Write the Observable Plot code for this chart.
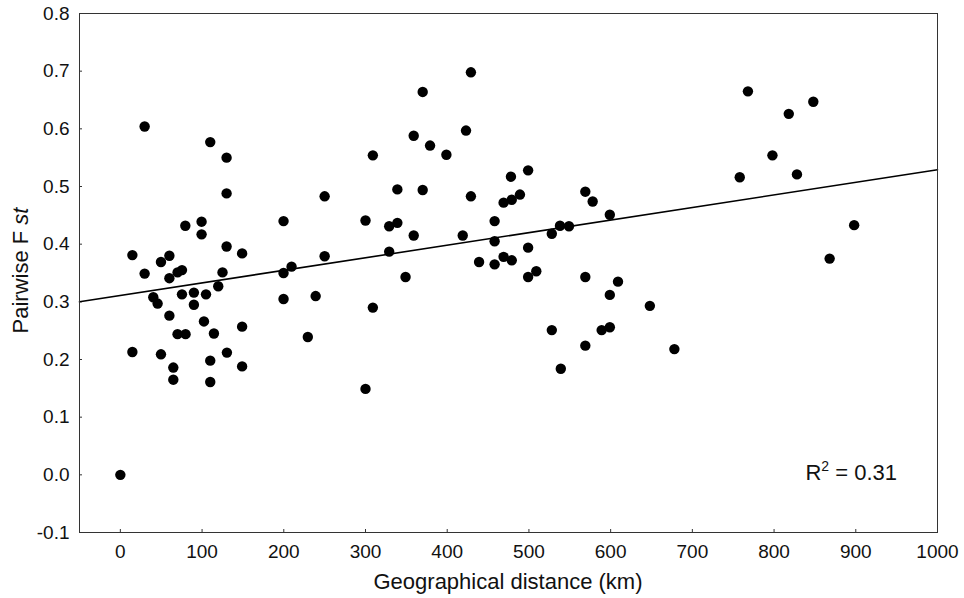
<!DOCTYPE html>
<html>
<head>
<meta charset="utf-8">
<script src="https://cdn.jsdelivr.net/npm/d3@7"></script>
<script src="https://cdn.jsdelivr.net/npm/@observablehq/plot@0.6"></script>
<style>
  html, body { margin: 0; padding: 0; background: #fff; }
  #chart svg { display: block; }
</style>
</head>
<body>
<div id="chart"></div>
<script>
// Geographical distance (km)
const distance = [
  29.7, 110, 130, 130, 250, 99.4, 199.7, 79.5, 99.4, 130,
  149, 14.7, 60, 250, 49.7, 209.5, 29.7, 70, 75.4, 60,
  125, 199.7, 119.8, 75.4, 90, 104.8, 239, 40.3, 199.7, 45.6,
  90, 60, 102.3, 149, 70, 79.8, 114.5, 229.4, 14.7, 49.7,
  130.4, 110, 149, 64.8, 64.8, 110, 0,
  429, 370, 423, 359, 379, 399, 309, 499, 478, 339,
  370, 569, 429, 489, 479, 469, 578, 599, 300, 458,
  339, 329, 538, 549, 528, 359, 419, 458, 329, 499,
  439, 469, 479, 458, 509, 349, 499, 569, 609, 599,
  309, 528, 589, 599, 569, 539, 300,
  768, 848, 818, 798, 828, 758, 898, 868, 648, 678
];
// Pairwise Fst
const fst = [
  0.604, 0.577, 0.550, 0.488, 0.483, 0.439, 0.440, 0.432, 0.417, 0.396,
  0.384, 0.381, 0.380, 0.379, 0.369, 0.361, 0.349, 0.351, 0.355, 0.341,
  0.351, 0.350, 0.327, 0.313, 0.316, 0.313, 0.310, 0.308, 0.305, 0.297,
  0.295, 0.276, 0.266, 0.257, 0.244, 0.244, 0.245, 0.239, 0.213, 0.209,
  0.212, 0.198, 0.188, 0.186, 0.165, 0.161, 0.000,
  0.698, 0.664, 0.597, 0.588, 0.571, 0.555, 0.554, 0.528, 0.517, 0.495,
  0.494, 0.491, 0.483, 0.486, 0.477, 0.472, 0.474, 0.451, 0.441, 0.440,
  0.437, 0.431, 0.432, 0.431, 0.418, 0.415, 0.415, 0.405, 0.387, 0.394,
  0.369, 0.378, 0.372, 0.365, 0.353, 0.343, 0.343, 0.343, 0.335, 0.312,
  0.290, 0.251, 0.251, 0.256, 0.224, 0.184, 0.149,
  0.665, 0.647, 0.626, 0.554, 0.521, 0.516, 0.433, 0.375, 0.293, 0.218
];
// Regression line
const regIntercept = 0.311;
const regSlope = 0.000218;
const rSquaredText = "0.31";

const xTicks = [0, 100, 200, 300, 400, 500, 600, 700, 800, 900, 1000];
const yTicks = [-0.1, 0.0, 0.1, 0.2, 0.3, 0.4, 0.5, 0.6, 0.7, 0.8];
const xDomain = [-50, 1000];
const yDomain = [-0.1, 0.8];

const points = distance.map((d, i) => ({distance: d, fst: fst[i]}));
const regLine = xDomain.map(x => ({distance: x, fst: regIntercept + regSlope * x}));

const W = 964, H = 598;
const mL = 79, mR = 27, mT = 13, mB = 66;
const plotW = W - mL - mR, plotH = H - mT - mB;
const font = "'Liberation Sans', Arial, sans-serif";

const plot = Plot.plot({
  width: W,
  height: H,
  marginLeft: mL,
  marginRight: mR,
  marginTop: mT,
  marginBottom: mB,
  style: {fontFamily: font, background: "#fff", color: "#111"},
  x: {domain: xDomain},
  y: {domain: yDomain},
  marks: [
    Plot.axisX({ticks: xTicks, tickSize: 0, tickPadding: 12, fontSize: 19, label: null, tickFormat: d => String(d)}),
    Plot.axisY({ticks: yTicks, tickSize: 0, tickPadding: 10, fontSize: 19, label: null, tickFormat: d => d.toFixed(1)}),
    Plot.tickX(xTicks.slice(0, -1), {x: d => d, stroke: "#333", strokeWidth: 1, insetTop: plotH - 3}),
    Plot.tickY(yTicks.slice(1, -1), {y: d => d, stroke: "#333", strokeWidth: 1, insetRight: plotW - 3}),
    Plot.line(regLine, {x: "distance", y: "fst", stroke: "#000", strokeWidth: 1.6}),
    Plot.dot(points, {x: "distance", y: "fst", r: 5.2, fill: "#000", stroke: "none"}),
    Plot.frame({stroke: "#333", strokeWidth: 1})
  ]
});

const svg = d3.select(plot);
// x axis label
svg.append("text")
  .attr("x", mL + plotW / 2)
  .attr("y", 589)
  .attr("text-anchor", "middle")
  .attr("font-size", 22)
  .attr("font-family", font)
  .attr("fill", "#111")
  .text("Geographical distance (km)");
// y axis label
const yl = svg.append("text")
  .attr("transform", `translate(27.5,${mT + plotH / 2 - 2}) rotate(-90)`)
  .attr("text-anchor", "middle")
  .attr("font-size", 22)
  .attr("font-family", font)
  .attr("fill", "#111");
yl.append("tspan").text("Pairwise F ");
yl.append("tspan").attr("font-style", "italic").text("st");
// R squared annotation
const rt = svg.append("text")
  .attr("x", W - mR - 40)
  .attr("y", 480)
  .attr("text-anchor", "end")
  .attr("font-size", 22)
  .attr("font-family", font)
  .attr("fill", "#111");
rt.append("tspan").text("R");
rt.append("tspan").attr("font-size", 14).attr("dy", -9).text("2");
rt.append("tspan").attr("dy", 9).text(" = " + rSquaredText);

document.getElementById("chart").appendChild(plot);
</script>
</body>
</html>
